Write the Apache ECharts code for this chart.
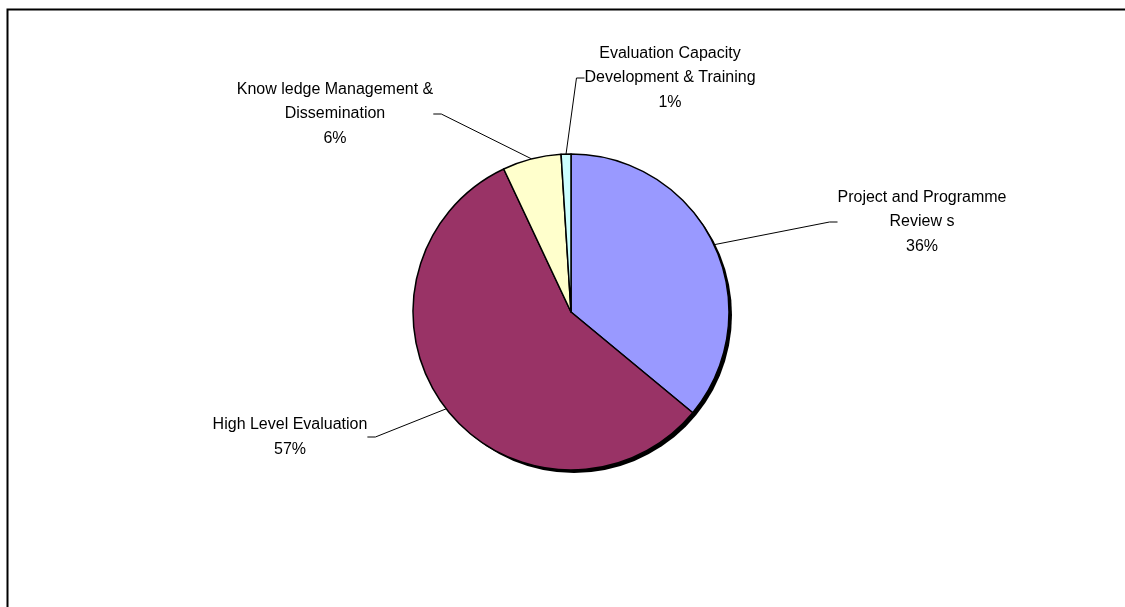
<!DOCTYPE html>
<html>
<head>
<meta charset="utf-8">
<script src="https://cdn.jsdelivr.net/npm/echarts@6/dist/echarts.min.js"></script>
<style>
  html, body { margin: 0; padding: 0; background: #fff; }
  #chart-box { width: 1125px; height: 607px; }
</style>
</head>
<body>
<div id="chart-box"></div>
<script>
// categories and shares (percent), clockwise from 12 o'clock
const categories = [
  "Project and Programme\nReview s",
  "High Level Evaluation",
  "Know ledge Management &\nDissemination",
  "Evaluation Capacity\nDevelopment & Training",
];
const shares = [36, 57, 6, 1];
const sliceColors = ["#9999FF", "#993366", "#FFFFCC", "#CCFFFF"];

// where each label block sits (centre of text)
const labelSpots = [
  [922, 222],
  [290, 437],
  [335, 114],
  [670, 78],
];

const chart = echarts.init(document.getElementById("chart-box"));

const option = {
  animation: false,
  backgroundColor: "#fff",
  graphic: [
    {
      type: "rect",
      left: 5,
      top: 7,
      shape: { width: 1200, height: 700 },
      style: { fill: "none", stroke: "#000", lineWidth: 2 },
      silent: true,
    },
  ],
  series: [
    {
      // drop shadow under the pie
      name: "shadow",
      type: "pie",
      silent: true,
      z: 1,
      center: [574, 315],
      radius: 158,
      label: { show: false },
      labelLine: { show: false },
      itemStyle: { color: "#000", borderWidth: 0 },
      data: [{ value: 1 }],
    },
    {
      name: "type",
      type: "pie",
      z: 2,
      center: [571, 312],
      radius: 158,
      startAngle: 90,
      clockwise: true,
      avoidLabelOverlap: false,
      data: categories.map((c, i) => ({
        name: c,
        value: shares[i],
        itemStyle: { color: sliceColors[i] },
      })),
      itemStyle: { borderColor: "#000", borderWidth: 1.5 },
      label: {
        show: true,
        formatter: "{b}\n{d}%",
        fontFamily: "Liberation Sans, Arial, sans-serif",
        fontSize: 16,
        lineHeight: 24.5,
        color: "#000",
        align: "center",
      },
      labelLine: {
        show: true,
        length: 20,
        length2: 8,
        lineStyle: { color: "#000", width: 1 },
      },
      labelLayout: function (params) {
        const p = labelSpots[params.dataIndex];
        return { x: p[0], y: p[1], align: "center", verticalAlign: "middle" };
      },
      emphasis: { disabled: true },
    },
  ],
};

chart.setOption(option);
</script>
</body>
</html>
